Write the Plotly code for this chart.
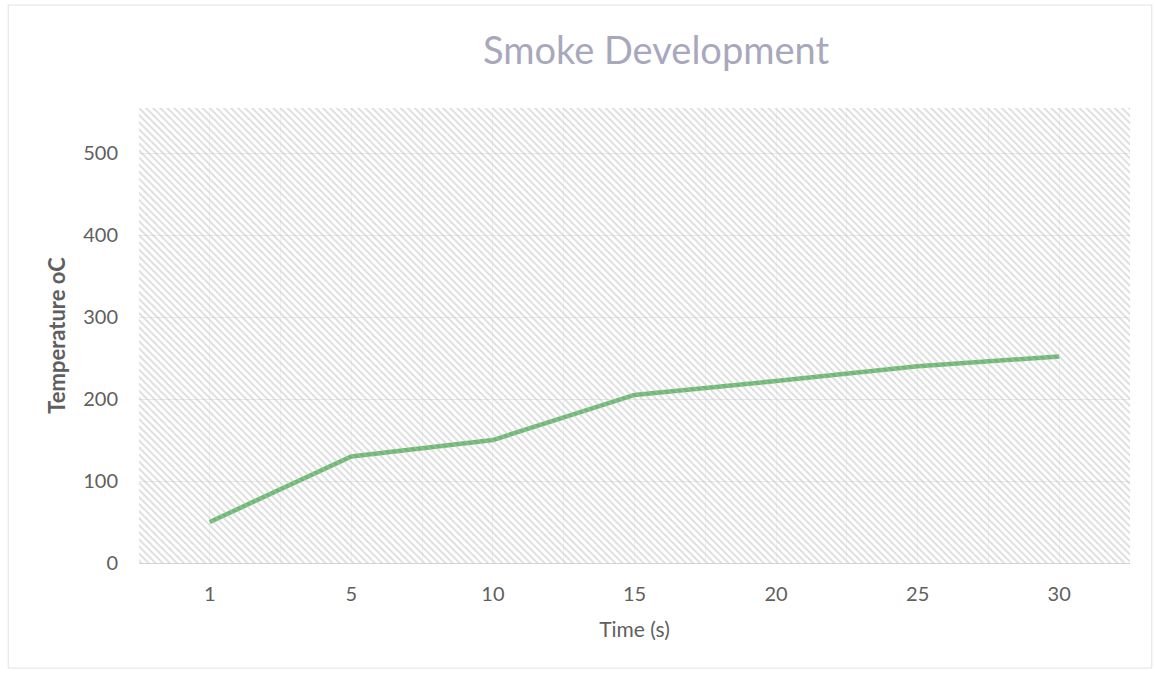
import plotly.graph_objects as go

# Smoke development readings
time_labels = ["1", "5", "10", "15", "20", "25", "30"]
temperature = [50, 130, 150, 205, 222, 240, 252]
y_ticks = [0, 100, 200, 300, 400, 500]

FONT = "Lato"
TICK_GREY = "#5f5f5f"

fig = go.Figure()

# Hatched plot-area backdrop on an overlay axis pair (also carries faint vertical grid)
fig.add_trace(go.Bar(
    x=[3], y=[1], width=7,
    xaxis="x2", yaxis="y2",
    marker=dict(
        color="rgba(0,0,0,0)",
        line=dict(width=0),
        pattern=dict(shape="\\", fgcolor="#b9b9b9", bgcolor="rgba(0,0,0,0)",
                     size=5, solidity=0.35),
    ),
    hoverinfo="skip", showlegend=False,
))

fig.add_trace(go.Scatter(
    x=time_labels, y=temperature,
    mode="lines",
    line=dict(color="#6cbb72", width=4.5),
    showlegend=False,
))

fig.update_layout(
    width=1155, height=674,
    paper_bgcolor="white", plot_bgcolor="white",
    margin=dict(l=139, r=25, t=108, b=111),
    title=dict(text="Smoke Development", x=0.568, xanchor="center",
               y=0.925, yanchor="middle",
               font=dict(family=FONT, size=38, color="#a8a8bd")),
    xaxis=dict(
        type="category", range=[-0.5, 6.5],
        showgrid=False, zeroline=False,
        showline=True, linecolor="#d4d4d4", linewidth=1,
        ticks="", tickfont=dict(family=FONT, size=20, color=TICK_GREY),
        ticklabelstandoff=13,
        title=dict(text="Time (s)", standoff=18,
                   font=dict(family=FONT, size=21, color=TICK_GREY)),
    ),
    yaxis=dict(
        range=[0, 555], tickvals=y_ticks,
        showgrid=True, gridcolor="#e9e9e9", gridwidth=1,
        zeroline=False, showline=False, ticks="",
        tickfont=dict(family=FONT, size=20, color=TICK_GREY),
        ticklabelstandoff=20,
        title=dict(text="<b>Temperature oC</b>", standoff=11,
                   font=dict(family=FONT, size=22, color=TICK_GREY)),
    ),
    xaxis2=dict(overlaying="x", range=[-0.5, 6.5], showgrid=True,
                tick0=-0.5, dtick=0.5, gridcolor="#f4f4f4", gridwidth=1,
                showticklabels=False, zeroline=False, showline=False, ticks=""),
    yaxis2=dict(overlaying="y", range=[0, 1], visible=False),
    bargap=0,
    shapes=[dict(type="rect", xref="paper", yref="paper",
                 x0=-0.132, x1=1.022, y0=-0.231, y1=1.226,
                 line=dict(color="#e2e2e2", width=1), layer="below")],
)

fig.write_html("out.html")
